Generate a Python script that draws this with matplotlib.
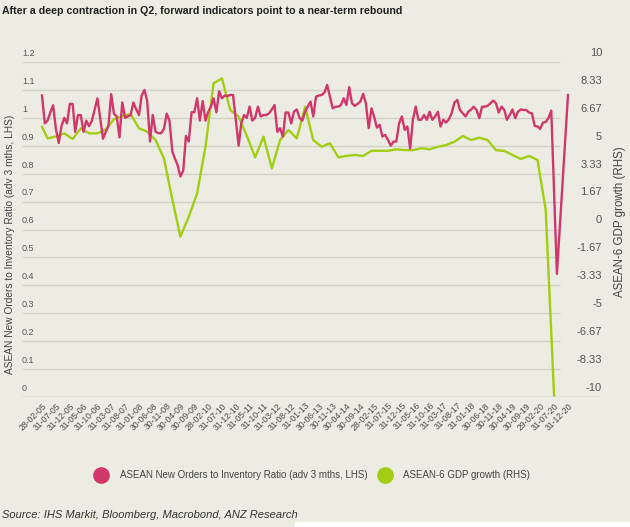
import numpy as np
import pandas as pd
import matplotlib
matplotlib.use('Agg')
from matplotlib import pyplot as plt
from matplotlib import transforms
from matplotlib.lines import Line2D
from matplotlib.patches import Rectangle

plt.rcParams['font.family'] = ['Liberation Sans', 'DejaVu Sans']

# monthly dates, end of month (orders ratio is already advanced 3 months)
months = pd.period_range('2005-02', '2020-12', freq='M').to_timestamp(how='end').normalize()

orders_ratio = [
    1.08, 0.98, 0.99, 1.02, 1.045, 0.96, 0.91, 0.97, 1.00, 0.98,
    1.05, 1.05, 0.95, 1.01, 1.01, 0.95, 0.99, 0.97, 0.99, 1.03,
    1.07, 1.00, 0.925, 0.95, 0.97, 1.085, 1.015, 1.005, 0.93, 1.055,
    1.00, 1.005, 1.01, 1.055, 1.03, 1.01, 1.08, 1.10, 1.06, 0.915,
    1.01, 0.95, 0.945, 0.945, 0.96, 1.015, 0.99, 0.88, 0.855, 0.83,
    0.79, 0.81, 0.935, 0.915, 1.02, 1.02, 1.07, 0.99, 1.06, 0.99,
    1.02, 1.04, 1.07, 1.02, 1.095, 1.07, 1.08, 1.078, 1.082, 1.082,
    0.99, 0.90, 0.98, 1.01, 1.00, 1.04, 0.99, 1.00, 1.04, 1.005,
    1.01, 1.01, 1.016, 1.03, 1.046, 0.95, 0.963, 0.933, 1.019, 1.019,
    0.98, 1.022, 1.03, 1.00, 0.99, 1.022, 1.04, 1.058, 1.005, 1.076,
    1.08, 1.082, 1.09, 1.118, 1.076, 1.034, 1.04, 1.04, 1.046, 1.07,
    1.046, 1.11, 1.052, 1.043, 1.05, 1.058, 1.086, 1.052, 0.963, 1.034,
    1.005, 0.965, 0.975, 0.933, 0.939, 0.921, 0.90, 0.915, 0.915, 0.98,
    1.005, 0.957, 0.969, 0.89, 0.993, 1.04, 0.993, 0.993, 1.01, 0.993,
    1.022, 0.993, 1.005, 1.022, 0.969, 0.993, 0.983, 0.995, 1.016, 1.055,
    1.064, 1.028, 1.016, 1.005, 1.022, 1.03, 1.04, 1.028, 0.999, 1.04,
    1.04, 1.043, 1.052, 1.062, 1.052, 1.019, 1.04, 1.028, 0.993, 1.01,
    1.03, 0.999, 1.022, 1.03, 1.028, 1.028, 1.019, 1.016, 0.971, 0.969,
    0.96, 0.983, 0.985, 1.00, 1.026, 0.735, 0.441, 0.60, 0.76, 0.92,
    1.082,
]

# quarterly GDP growth, y/y %
gdp_dates = months[[0] + list(range(2, 186, 3))]
gdp_growth = [
    6.13, 5.44, 5.55, 5.74, 5.40, 6.04, 5.74, 5.74, 5.98, 6.58,
    6.77, 6.89, 6.04, 5.84, 5.34, 4.25, 1.80, -0.43, 0.76, 2.16,
    4.94, 8.73, 9.02, 7.13, 6.73, 5.60, 4.31, 5.54, 3.65, 5.34,
    5.94, 5.44, 7.33, 5.34, 4.94, 5.15, 4.31, 4.39, 4.45, 4.39,
    4.70, 4.70, 4.70, 4.79, 4.74, 4.74, 4.85, 4.79, 4.94, 5.04,
    5.24, 5.58, 5.34, 5.48, 5.34, 4.74, 4.69, 4.45, 4.21, 4.39,
    4.15, 1.16, -9.9,
]

left_ticks = [0, 0.1, 0.2, 0.3, 0.4, 0.5, 0.6, 0.7, 0.8, 0.9, 1.0, 1.1, 1.2]
left_labels = ['0', '0.1', '0.2', '0.3', '0.4', '0.5', '0.6', '0.7', '0.8', '0.9', '1', '1.1', '1.2']
right_ticks = [-10, -25 / 3, -20 / 3, -5, -10 / 3, -5 / 3, 0, 5 / 3, 10 / 3, 5, 20 / 3, 25 / 3, 10]
right_labels = ['-10', '-8.33', '-6.67', '-5', '-3.33', '-1.67', '0', '1.67', '3.33', '5', '6.67', '8.33', '10']

tick_dates = months[::5]
tick_labels = [d.strftime('%d-%m-%y') for d in tick_dates]

BG = '#edece2'
RED = '#d1376a'
GREEN = '#a3cd12'
GRID = '#d3d2c9'
TXT = '#555555'

W, H = 630, 527
fig = plt.figure(figsize=(W / 100, H / 100), dpi=100, facecolor=BG)

# green series on the back axes (with the gridlines), red on top
ax2 = fig.add_axes([22 / W, 130 / H, 578 / W, 335 / H])
ax = fig.add_axes([22 / W, 130 / H, 578 / W, 335 / H], sharex=ax2)
for a in (ax, ax2):
    a.patch.set_visible(False)
    for s in a.spines.values():
        s.set_visible(False)
    a.tick_params(left=False, right=False, labelleft=False, labelright=False)
ax2.tick_params(axis='x', bottom=False, labelbottom=False)

span_days = (months[-1] - months[0]).days
day_per_px = span_days / 526
x0 = months[0] - pd.Timedelta(days=20 * day_per_px)
x1 = months[0] + pd.Timedelta(days=558 * day_per_px)
grid_end = months[0] + pd.Timedelta(days=518 * day_per_px)
ax2.set_xlim(x0, x1)
ax2.set_ylim(-10, 10)
ax.set_ylim(0, 1.2)

ax2.hlines(right_ticks[1:], x0, grid_end, color=GRID, lw=1.0, zorder=1)
ax2.axhline(-10, color='#b5b4ab', lw=1.0, zorder=1)

ax2.plot(gdp_dates, gdp_growth, color=GREEN, lw=1.7, zorder=3, clip_on=False)
ax.plot(months, orders_ratio, color=RED, lw=1.7, zorder=3, clip_on=False)

# y tick labels sitting just above their gridlines
up = transforms.ScaledTranslation(0, 3 / 72, fig.dpi_scale_trans)
lt = transforms.blended_transform_factory(ax.transAxes, ax.transData) + up
for v, lab in zip(left_ticks, left_labels):
    ax.text(0, v, lab, transform=lt, ha='left', va='bottom', fontsize=6.5, color=TXT)
rt = transforms.blended_transform_factory(fig.transFigure, ax2.transData) + up
for v, lab in zip(right_ticks, right_labels):
    ax2.text(602 / W, v, lab, transform=rt, ha='right', va='bottom', fontsize=8, color=TXT)

ax.set_xticks(tick_dates)
ax.set_xticklabels(tick_labels, rotation=45, ha='right', rotation_mode='anchor',
                   fontsize=6.2, color='#4a4a4a')
ax.tick_params(axis='x', length=0, pad=3, labelbottom=True)

fig.text(10 / W, 1 - 244 / H, 'ASEAN New Orders to Inventory Ratio (adv 3 mths, LHS)',
         rotation=90, ha='center', va='center', fontsize=7.3, color='#444444')
fig.text(620 / W, 1 - 222 / H, 'ASEAN-6 GDP growth (RHS)',
         rotation=90, ha='center', va='center', fontsize=8.3, color='#444444')

fig.text(2 / W, 1 - 11 / H, 'After a deep contraction in Q2, forward indicators point to a near-term rebound',
         ha='left', va='center', fontsize=7.7, fontweight='bold', color='#222222')

handles = [
    Line2D([], [], marker='o', ls='', color=RED, markersize=11),
    Line2D([], [], marker='o', ls='', color=GREEN, markersize=11),
]
fig.legend(handles, ['ASEAN New Orders to Inventory Ratio (adv 3 mths, LHS)', 'ASEAN-6 GDP growth (RHS)'],
           loc='center', bbox_to_anchor=(311 / W, 1 - 475 / H), ncol=2, frameon=False,
           fontsize=7.0, handletextpad=0.9, columnspacing=0.8, labelcolor='#444444')

fig.text(2 / W, 1 - 515 / H, 'Source: IHS Markit, Bloomberg, Macrobond, ANZ Research',
         ha='left', va='center', fontsize=8.0, style='italic', color='#333333')

fig.patches.append(Rectangle((295 / W, 0), 1 - 295 / W, 5 / H, transform=fig.transFigure,
                             facecolor='white', edgecolor='none'))

fig.savefig('out.png', dpi=100, facecolor=BG)
